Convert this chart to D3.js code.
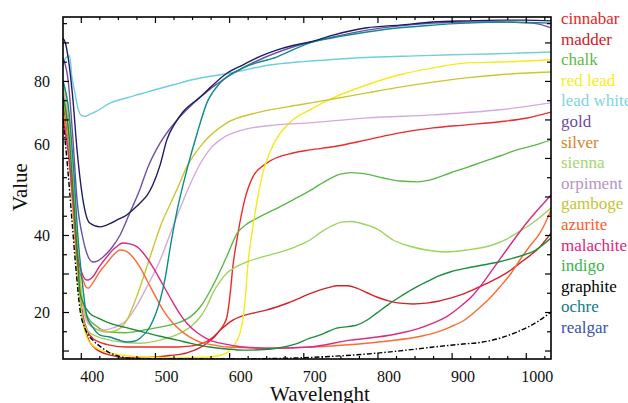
<!DOCTYPE html>
<html><head><meta charset="utf-8">
<script src="https://cdn.jsdelivr.net/npm/d3@7"></script>
<style>body{margin:0;background:#fff} svg{display:block}</style>
</head><body><svg id="c" width="628" height="403"></svg>
<script>
// ---- data: [wavelength, value] ----
const seriesNames = ["cinnabar","madder","chalk","red lead","lead white","gold","silver","sienna","orpiment","gamboge","azurite","malachite","indigo","graphite","ochre","realgar"];

const cinnabar = [[376,75],[384,62],[390,47],[396,30],[403,19],[409,15],[416,13.2],[428,12],[439,11.4],[462,10.9],[530,10.9],[550,11.2],[565,11.9],[575,13],[584,14.5],[592,16.5],[597,18.7],[601,24],[605,31.7],[612,40.5],[621,49.1],[632,55.1],[651,58.7],[686,61.3],[709,62.1],[740,62.9],[786,64.7],[830,66.5],[875,67.8],[920,68.6],[965,69.4],[1000,70.3],[1034,71.9]];
const madder = [[376,74],[384,62],[390,46],[396,30],[403,18],[410,13],[420,10.5],[440,8.8],[462,8.1],[497,8.3],[520,8.7],[543,9.4],[558,10.5],[570,11.9],[580,13.5],[588,15.3],[597,16.8],[605,17.9],[618,19],[632,19.7],[650,20.5],[664,21.3],[680,22.4],[695,23.6],[709,24.8],[722,25.7],[735,26.4],[745,26.8],[760,26.8],[772,26.2],[786,25],[799,23.9],[815,22.9],[830,22.3],[848,22.1],[866,22.3],[882,22.8],[898,23.6],[913,24.5],[928,25.7],[946,27.3],[965,29.1],[980,30.9],[992,32.7],[1006,34.7],[1019,36.9],[1026,38.5],[1034,40.5]];
const chalk = [[376,78],[384,66],[390,50],[396,32],[403,22],[410,18.5],[420,16.5],[439,14.8],[460,14.6],[484,15.3],[510,16.2],[530,17.1],[548,18.8],[561,21.3],[573,25],[584,29.1],[597,34.5],[611,40.5],[625,43],[641,44.7],[660,46.5],[678,48.3],[695,50],[709,51.5],[730,54],[750,55.8],[765,56.2],[785,55.8],[808,54.8],[830,54],[853,53.8],[875,54.5],[898,56.1],[920,57.5],[942,59],[965,60.5],[988,62.1],[1010,63.2],[1034,64.7]];
const redLead = [[376,72],[384,60],[390,45],[396,28],[403,17],[409,13],[416,11.4],[428,10],[439,9.4],[460,8.7],[484,8.3],[530,8.1],[574,8.3],[590,8.9],[597,9.4],[605,11],[611,12.7],[616,15.5],[619,18.7],[622,24],[625,31.7],[632,42],[637,48],[646,56.5],[655,61.5],[664,65],[686,69.9],[709,72.5],[740,75.6],[786,79],[830,81.6],[875,83.4],[920,84.7],[965,84.9],[1034,85.5]];
const leadWhite = [[376,84],[380,86],[385,86.5],[388,81],[392,77],[396,73],[401,71],[406,70.8],[412,71.3],[420,72],[440,74.3],[460,75.5],[480,76.6],[500,77.7],[525,79],[550,80.3],[575,81.2],[600,82],[625,83],[650,84],[675,84.6],[700,85],[750,85.7],[800,86.2],[850,86.5],[900,86.8],[950,87],[1000,87.3],[1034,87.5]];
const gold = [[376,86],[383,80],[389,66],[395,49],[403,39],[408,35.3],[416,33],[423,33.3],[430,34.3],[441,36.5],[453,40],[466,45.7],[480,52],[489,56.9],[507,63.9],[530,69.9],[561,75.8],[597,81],[641,85.5],[686,88.8],[740,91.4],[786,93.2],[830,94.3],[875,95],[920,95.3],[965,95.3],[1009,95],[1034,93.8]];
const silver = [];
const sienna = [[376,76],[384,64],[390,48],[396,30],[403,18],[410,15],[420,13.8],[439,12.7],[460,12.1],[480,11.9],[507,12.7],[534,14.5],[550,16.5],[561,18.7],[570,21.5],[578,24.9],[588,28],[597,30.1],[610,31.8],[624,33],[645,34.3],[664,35.3],[690,37],[709,38.7],[722,40.5],[740,42.5],[753,43.4],[765,43.5],[776,43.1],[800,41.5],[821,38.7],[845,37],[866,36.1],[893,35.6],[920,36.1],[955,37.4],[975,39],[988,40.5],[1009,43.1],[1034,47]];
const orpiment = [[376,78],[384,68],[390,52],[396,34],[403,21],[410,17],[420,15.6],[430,15.3],[445,16],[462,17.9],[475,21.5],[489,26.5],[507,33.5],[520,40],[534,47],[547,53],[561,58.5],[575,62.5],[590,65],[619,67.3],[664,68.6],[709,69.1],[786,70.4],[875,71.2],[965,72.5],[1034,74.3]];
const gamboge = [[376,80],[384,70],[390,55],[396,36],[403,22],[409,18],[416,16.1],[425,15.2],[435,14.8],[444,15],[453,15.8],[462,17.8],[470,21.3],[480,26.5],[489,31.7],[498,37],[507,42.1],[520,47.8],[530,52],[543,57.7],[565,63.9],[597,69.1],[641,71.9],[695,73.8],[740,75.3],[786,76.9],[830,78.4],[875,79.7],[920,80.8],[965,81.6],[1034,82.3]];
const azurite = [[376,72],[384,60],[390,46],[396,32],[403,28.3],[407,26.5],[410,26.2],[416,27.5],[425,30.3],[435,32.7],[444,34.8],[453,36.1],[461,35.8],[470,34.3],[480,31.6],[489,28.3],[500,24.3],[511,20.5],[522,17.6],[534,15.3],[547,13.5],[561,12.2],[580,11.4],[597,10.9],[664,10.6],[720,11],[786,11.9],[820,12.6],[853,13.5],[877,14.6],[898,16.1],[918,18],[934,20.5],[950,23.3],[965,26.5],[980,30],[992,33.5],[1005,37],[1019,40.5],[1026,43],[1034,46.5]];
const malachite = [[376,70],[384,60],[390,48],[396,34],[399,31.7],[404,29],[408,28.3],[412,28.5],[416,29.1],[425,31.8],[435,34.3],[446,36.6],[457,37.9],[466,37.7],[476,36.9],[487,34.6],[497,31.7],[508,28],[520,23.9],[532,20],[543,17.1],[558,14.5],[574,12.7],[597,11.6],[619,10.9],[664,10.6],[709,10.9],[763,12.7],[800,13.5],[830,14.5],[855,15.7],[875,17.1],[895,19],[911,21.3],[928,24.2],[942,27.5],[958,31.8],[974,36.1],[988,39.8],[1001,43.1],[1015,46.3],[1028,49.1],[1034,50.4]];
const indigo = [[376,76],[384,66],[390,50],[396,33],[399,25],[404,22],[412,19.7],[425,18.3],[439,17.1],[460,16],[484,14.8],[507,13.7],[530,12.7],[550,11.8],[574,10.9],[597,10.4],[619,10.1],[640,10.2],[664,10.6],[688,11.6],[709,13.2],[722,14],[734,15],[745,15.8],[760,16.2],[772,16.6],[785,17.8],[799,19.7],[815,22],[830,23.9],[848,26],[866,27.8],[882,29.3],[898,30.4],[920,31.4],[942,32.2],[963,33],[983,34],[1000,35],[1009,35.6],[1020,37],[1034,39.2]];
const graphite = [[376,70],[382,58],[388,44],[394,30],[399,20.5],[405,16],[410,14],[416,12.7],[428,10.8],[439,9.4],[450,8.6],[462,8.1],[480,7.9],[507,7.8],[550,7.8],[597,7.8],[650,7.9],[695,8.1],[740,8.5],[786,9.1],[830,9.9],[875,10.9],[910,11.6],[942,12.2],[965,13.2],[988,14.8],[1005,16.3],[1019,17.9],[1034,20]];
const ochre = [[376,80],[384,72],[390,58],[396,40],[403,26],[408,19],[416,16.1],[426,14],[439,13.5],[450,12.8],[462,12.2],[472,12.4],[480,13.2],[493,16.1],[500,19],[507,23.1],[514,29],[520,36.1],[530,46.5],[543,56.9],[557,66.5],[570,74.3],[588,79.5],[619,83.4],[664,86.2],[709,89.9],[740,91.2],[786,92.7],[830,93.8],[875,94.5],[920,95],[965,95.3],[1034,95]];
const realgar = [[376,91],[379,90],[383,86],[389,76],[395,62],[403,49],[412,43.1],[426,42.1],[440,43],[449,43.9],[462,45.2],[470,46.5],[480,48.3],[490,50.5],[497,53],[507,58.2],[516,64.7],[527,69],[538,72],[561,75.8],[574,78.2],[597,82],[619,84.2],[641,86.3],[664,88],[686,89.2],[709,90.1],[740,91.9],[786,93.8],[830,94.5],[875,95.3],[920,95.6],[965,95.8],[1000,95.8],[1034,95.6]];

const seriesData = [cinnabar,madder,chalk,redLead,leadWhite,gold,silver,sienna,orpiment,gamboge,azurite,malachite,indigo,graphite,ochre,realgar];

const xTickLabels = [400,500,600,700,800,900,1000];
const yTickLabels = [20,40,60,80];

// ---- styles ----
const FONT = "'Liberation Serif', 'Times New Roman', serif";
const lineColors = ["#ee2a2a","#d42228","#5ab848","#f8e81c","#6ecde0","#6e50a8","#d88a38","#9ed45e","#d4aadb","#c8c832","#ff6a32","#dc2a82","#1c8c3c","#000000","#0e8a8c","#1c1c6a"];
const legendColors = ["#ee1d24","#d71920","#5db94a","#f9ec1a","#7ed3e6","#6d4c9f","#d9822b","#a6d56e","#b593c9","#c3c43a","#ff5b2e","#e01f7a","#39b54a","#000000","#127b85","#3a53a4"];

const L=63,R=551,T=17,B=359;
const x = d3.scaleLinear().domain([376,1034]).range([L,R]);
const y = d3.scaleLinear().domain([7.8,96.6]).range([B,T]);
const svg = d3.select("#c");

svg.append("defs").append("clipPath").attr("id","clip")
  .append("rect").attr("x",L).attr("y",T).attr("width",R-L).attr("height",B-T);

const line = d3.line().x(d=>x(d[0])).y(d=>y(d[1])).curve(d3.curveMonotoneX);
const g = svg.append("g").attr("clip-path","url(#clip)");
seriesData.forEach((s,i)=>{
  if(!s.length) return;
  g.append("path").attr("d",line(s)).attr("fill","none")
   .attr("stroke",lineColors[i]).attr("stroke-width",1.4)
   .attr("stroke-dasharray", seriesNames[i]==="graphite" ? "5,2,1.5,2" : null);
});

// ticks
const xMinor = d3.range(400,1034,25).filter(v=>v%100!==0);
const yMajor = d3.range(10,96,10), yMinor = d3.range(15,96,10);
function styleAxis(sel){ sel.select(".domain").remove(); sel.selectAll("line").attr("stroke","#000").attr("stroke-width",1.2); }
function serif(sel, size){ sel.style("font-family",FONT).style("font-size",size+"px"); }

svg.append("g").attr("transform",`translate(0,${B})`).call(d3.axisBottom(x).tickValues(xMinor).tickSize(-3).tickFormat("")).call(styleAxis);
const xb = svg.append("g").attr("transform",`translate(0,${B})`)
  .call(d3.axisBottom(x).tickValues(xTickLabels).tickSize(-6).tickPadding(12).tickFormat(d3.format("d"))).call(styleAxis);
xb.selectAll("text").call(serif,16).attr("dx",11).attr("fill","#111");
svg.append("g").attr("transform",`translate(0,${T})`).call(d3.axisTop(x).tickValues(xMinor).tickSize(-3).tickFormat("")).call(styleAxis);
svg.append("g").attr("transform",`translate(0,${T})`).call(d3.axisTop(x).tickValues(xTickLabels).tickSize(-6).tickFormat("")).call(styleAxis);

svg.append("g").attr("transform",`translate(${L},0)`).call(d3.axisLeft(y).tickValues(yMinor).tickSize(-4).tickFormat("")).call(styleAxis);
svg.append("g").attr("transform",`translate(${L},0)`).call(d3.axisLeft(y).tickValues(yMajor).tickSize(-6).tickFormat("")).call(styleAxis);
const yl = svg.append("g").attr("transform",`translate(${L},0)`)
  .call(d3.axisLeft(y).tickValues(yTickLabels).tickSize(0).tickPadding(13)).call(styleAxis);
yl.selectAll("text").call(serif,16).attr("fill","#111")
  .attr("dy", d => d===60 ? "-0.5em" : "0.32em");
svg.append("g").attr("transform",`translate(${R},0)`).call(d3.axisRight(y).tickValues(yMinor).tickSize(-4).tickFormat("")).call(styleAxis);
svg.append("g").attr("transform",`translate(${R},0)`).call(d3.axisRight(y).tickValues(yMajor).tickSize(-6).tickFormat("")).call(styleAxis);

svg.append("rect").attr("x",L).attr("y",T).attr("width",R-L).attr("height",B-T)
  .attr("fill","none").attr("stroke","#000").attr("stroke-width",1.6);

// titles
svg.append("text").attr("x",320).attr("y",401).attr("text-anchor","middle").call(serif,21).attr("fill","#111").text("Wavelenght");
svg.append("text").attr("transform","translate(27,187) rotate(-90)").attr("text-anchor","middle").call(serif,21).attr("fill","#111").text("Value");

// legend
const lg = svg.append("g");
seriesNames.forEach((n,i)=>{
  lg.append("text").attr("x",561).attr("y",24+i*20.6).call(serif,17)
    .attr("fill",legendColors[i]).text(n);
});
</script></body></html>
